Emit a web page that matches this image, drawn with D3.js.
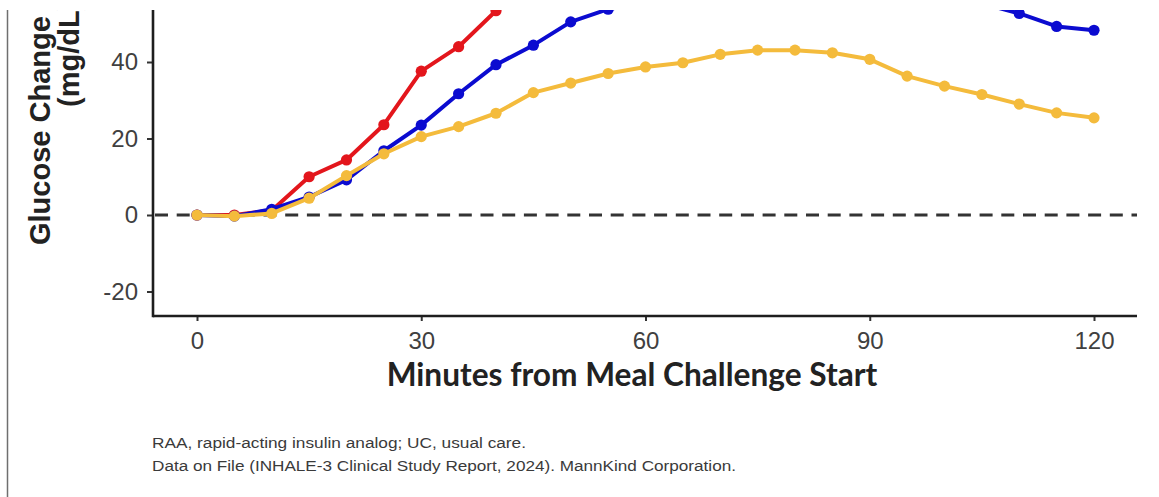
<!DOCTYPE html>
<html>
<head>
<meta charset="utf-8">
<script src="https://cdn.jsdelivr.net/npm/d3@7"></script>
<style>
  html, body { margin: 0; padding: 0; background: #fff; }
  svg { display: block; }
</style>
</head>
<body>
<svg id="chart" width="1159" height="497"></svg>
<script>
// Minutes after the start of the meal challenge
const minutes = [0, 5, 10, 15, 20, 25, 30, 35, 40, 45, 50, 55, 60, 65, 70, 75, 80, 85, 90, 95, 100, 105, 110, 115, 120];

// Mean glucose change from baseline (mg/dL) per treatment arm
const seriesRed  = [0, 0, 1.2, 10.0, 14.4, 23.6, 37.6, 44.0, 53.4, 61, 67, 71, 74, 76, 77, 77.5, 77, 76, 74, 72, 70, 68, 66, 64, 62];
const seriesBlue = [0, -0.3, 1.5, 4.7, 9.2, 16.8, 23.5, 31.7, 39.3, 44.4, 50.5, 53.8, 55.6, 56.8, 57.5, 58, 58, 57.6, 57, 56.3, 55.8, 55.3, 52.7, 49.3, 48.3];
const seriesGold = [0, -0.3, 0.4, 4.4, 10.3, 16.0, 20.5, 23.1, 26.6, 32.0, 34.5, 37.0, 38.7, 39.8, 42.0, 43.1, 43.1, 42.4, 40.7, 36.3, 33.7, 31.5, 29.0, 26.7, 25.4];

const xTicks = [0, 30, 60, 90, 120];
const yTicks = [-20, 0, 20, 40];

const xTitle = "Minutes from Meal Challenge Start";
const yTitleLines = ["Glucose Change", "(mg/dL)"];
const footnotes = [
  "RAA, rapid-acting insulin analog; UC, usual care.",
  "Data on File (INHALE-3 Clinical Study Report, 2024). MannKind Corporation."
];

const svg = d3.select("#chart");
svg.append("rect").attr("width", 1159).attr("height", 497).attr("fill", "#fff");

// Panel geometry
const panel = { left: 153, right: 1137, top: 10, bottom: 316 };

const x = d3.scaleLinear().domain([0, 120]).range([197, 1094]);
const y = d3.scaleLinear().domain([-20, 40]).range([291.5, 62]);

// Thin frame line on the left edge of the slide
svg.append("line")
  .attr("x1", 7.5).attr("x2", 7.5).attr("y1", 10).attr("y2", 497)
  .attr("stroke", "#6f6f6f").attr("stroke-width", 1.5);

svg.append("clipPath").attr("id", "panel-clip")
  .append("rect")
  .attr("x", panel.left).attr("y", panel.top)
  .attr("width", panel.right - panel.left).attr("height", panel.bottom - panel.top);

const plot = svg.append("g").attr("clip-path", "url(#panel-clip)");

// Zero reference line
plot.append("line")
  .attr("x1", panel.left + 2).attr("x2", panel.right)
  .attr("y1", y(0)).attr("y2", y(0))
  .attr("stroke", "#333").attr("stroke-width", 3)
  .attr("stroke-dasharray", "13,8.7");

const series = [
  { values: seriesRed,  color: "#e3161c" },
  { values: seriesBlue, color: "#0b0bd0" },
  { values: seriesGold, color: "#f4bb3c" }
];

const line = d3.line().x(d => x(d[0])).y(d => y(d[1]));

series.forEach(s => {
  const pts = minutes.map((m, i) => [m, s.values[i]]);
  const g = plot.append("g");
  g.append("path")
    .datum(pts)
    .attr("d", line)
    .attr("fill", "none")
    .attr("stroke", s.color)
    .attr("stroke-width", 4)
    .attr("stroke-linejoin", "round");
  g.selectAll("circle")
    .data(pts)
    .join("circle")
    .attr("cx", d => x(d[0]))
    .attr("cy", d => y(d[1]))
    .attr("r", 5.6)
    .attr("fill", s.color);
});

// Axes
const axisColor = "#1e1e1e";
const tickText = "#404040";
const plainNumber = d => String(d);

const xAxis = d3.axisBottom(x).tickValues(xTicks).tickSize(5).tickPadding(11).tickFormat(plainNumber);
const gx = svg.append("g").attr("transform", `translate(0,${panel.bottom})`).call(xAxis);
gx.select(".domain").remove();
gx.selectAll(".tick line").attr("stroke", "#333").attr("stroke-width", 2);
gx.selectAll(".tick text")
  .attr("fill", tickText)
  .attr("font-family", "'Liberation Sans', Arial, sans-serif")
  .attr("font-size", 24);

const yAxis = d3.axisLeft(y).tickValues(yTicks).tickSize(6).tickPadding(9).tickFormat(plainNumber);
const gy = svg.append("g").attr("transform", `translate(${panel.left},0)`).call(yAxis);
gy.select(".domain").remove();
gy.selectAll(".tick line").attr("stroke", "#333").attr("stroke-width", 2);
gy.selectAll(".tick text")
  .attr("fill", tickText)
  .attr("font-family", "'Liberation Sans', Arial, sans-serif")
  .attr("font-size", 24);

// Axis lines
svg.append("line")
  .attr("x1", panel.left).attr("x2", panel.right)
  .attr("y1", panel.bottom).attr("y2", panel.bottom)
  .attr("stroke", axisColor).attr("stroke-width", 2.6);
svg.append("line")
  .attr("x1", panel.left).attr("x2", panel.left)
  .attr("y1", panel.top).attr("y2", panel.bottom + 1.3)
  .attr("stroke", axisColor).attr("stroke-width", 2.6);

// X axis title, sized to span its measured width
const xt = svg.append("text")
  .attr("x", 632).attr("y", 386)
  .attr("text-anchor", "middle")
  .attr("font-family", "Lato, 'Noto Sans', sans-serif")
  .attr("font-weight", 700)
  .attr("font-size", 100)
  .attr("fill", "#222")
  .text(xTitle);
const xtw = xt.node().getComputedTextLength();
xt.attr("font-size", 100 * 491 / xtw);

// Y axis title (upper part runs past the top of the panel)
svg.append("clipPath").attr("id", "top-clip")
  .append("rect").attr("x", 0).attr("y", 10).attr("width", 153).attr("height", 487);
const yTitle = svg.append("g").attr("clip-path", "url(#top-clip)");
const yPos = [{ bx: 50, start: 245 }, { bx: 79, start: 107 }];
yTitleLines.forEach((t, i) => {
  yTitle.append("text")
    .attr("transform", `translate(${yPos[i].bx},${yPos[i].start}) rotate(-90)`)
    .attr("text-anchor", "start")
    .attr("font-family", "'Liberation Sans', Arial, sans-serif")
    .attr("font-weight", 700)
    .attr("font-size", 29)
    .attr("fill", "#222")
    .text(t);
});

// Footnotes
const fnWidths = [374, 584];
footnotes.forEach((t, i) => {
  svg.append("text")
    .attr("x", 152).attr("y", 448 + i * 23)
    .attr("font-family", "'Liberation Sans Narrow', 'Liberation Sans', Arial, sans-serif")
    .attr("font-size", 14)
    .attr("fill", "#3a3a3a")
    .attr("textLength", fnWidths[i])
    .attr("lengthAdjust", "spacingAndGlyphs")
    .text(t);
});
</script>
</body>
</html>
